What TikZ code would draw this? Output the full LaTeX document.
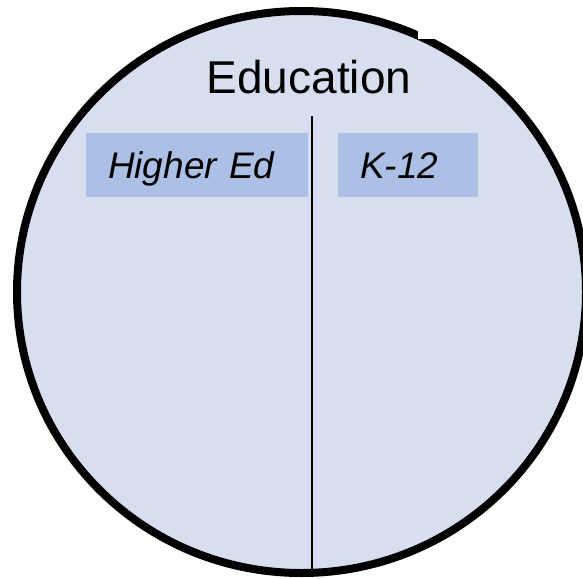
\documentclass[tikz,border=0pt]{standalone}
\usepackage{fontspec}
\setmainfont{Liberation Sans}
\usetikzlibrary{positioning,shapes.geometric}

\begin{document}
\begin{tikzpicture}[x=1pt,y=-1pt,line width=2pt]

  \definecolor{fill}{RGB}{214,222,240} % pale blue
  \definecolor{tag}{RGB}{171,192,228} % mid blue

  \tikzset{
    tagbox/.style={fill=tag,anchor=north west,minimum height=64pt,
      inner xsep=22pt,inner ysep=0pt,align=left,text height=26.6pt,
      text depth=0pt,font=\fontsize{37}{40}\selectfont\itshape}
  }

  % Frame
  \useasboundingbox (0,0) rectangle (583,578);

  % Draw the circle
  \node[ellipse,draw=black,fill=fill,line width=8pt,minimum width=569pt,
    minimum height=562pt,inner sep=0pt] (edu) at (301.5,292) {};

  % Title
  \node[anchor=base,inner sep=0pt,font=\fontsize{46}{50}\selectfont]
    (title) at (309,93) {Education};

  % Divider
  \coordinate (divtop) at (312,116);
  \draw (divtop) -- (divtop |- edu.south);

  % Draw the two tags
  \node[tagbox,text width=178pt] (higher) at (85,132) {Higher Ed};
  \node[tagbox,text width=96pt] (k12) at (337,132) {K-12};

  % Notch in the rim
  \fill[white] (418,0) rectangle (436,39);

\end{tikzpicture}
\end{document}
